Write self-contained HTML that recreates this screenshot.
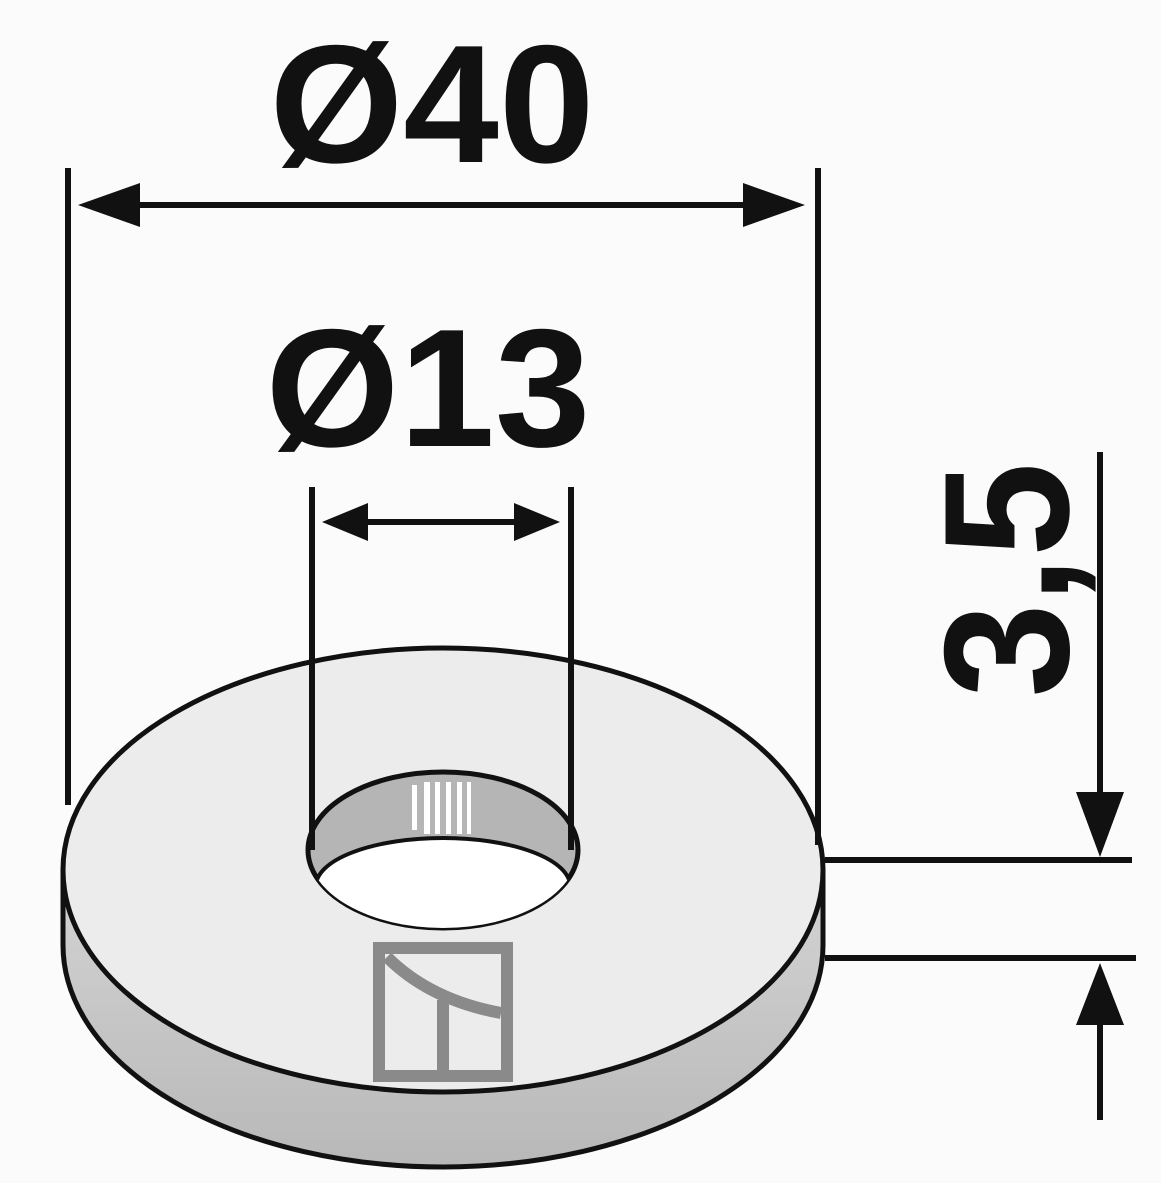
<!DOCTYPE html>
<html><head><meta charset="utf-8"><style>html,body{margin:0;padding:0;background:#fff}svg{display:block}</style></head>
<body>
<svg width="1161" height="1183" viewBox="0 0 1161 1183" xmlns="http://www.w3.org/2000/svg">
<rect width="1161" height="1183" fill="#fbfbfb"/>
<defs>
<clipPath id="holeclip"><ellipse cx="443" cy="850" rx="135" ry="78"/></clipPath>
<linearGradient id="side" x1="0" y1="0" x2="0" y2="1"><stop offset="0" stop-color="#d4d4d4"/><stop offset="1" stop-color="#b8b8b8"/></linearGradient>
</defs>
<!-- washer side -->
<path d="M63,870 L63,945 A380,222 0 0 0 823,945 L823,870 Z" fill="url(#side)" stroke="#111" stroke-width="5"/>
<!-- top face -->
<ellipse cx="443" cy="870" rx="380" ry="222" fill="#ececec" stroke="#111" stroke-width="5"/>
<!-- hole -->
<ellipse cx="443" cy="850" rx="135" ry="78" fill="#b5b5b5" stroke="#111" stroke-width="5"/>
<g clip-path="url(#holeclip)">
<ellipse cx="443" cy="886" rx="127" ry="48" fill="#fff" stroke="#111" stroke-width="4"/>
</g>
<g fill="#fff"><rect x="412" y="785" width="5" height="45"/><rect x="424" y="782" width="6" height="52"/><rect x="435" y="782" width="5" height="52"/><rect x="446" y="782" width="5" height="52"/><rect x="457" y="782" width="5" height="52"/><rect x="467" y="782" width="4" height="52"/></g>
<!-- logo -->
<g fill="none" stroke="#8a8a8a" stroke-width="12">
<rect x="379" y="948" width="128" height="128"/>
<path d="M387,957 Q430,1000 501,1013"/>
<line x1="443" y1="1000" x2="443" y2="1076"/>
</g>
<!-- extension lines -->
<g stroke="#111" stroke-width="6" fill="none">
<line x1="68" y1="168" x2="68" y2="805"/>
<line x1="818" y1="168" x2="818" y2="845"/>
<line x1="312" y1="487" x2="312" y2="850"/>
<line x1="571" y1="487" x2="571" y2="850"/>
<line x1="825" y1="860" x2="1132" y2="860"/>
<line x1="825" y1="958" x2="1136" y2="958"/>
<line x1="120" y1="205" x2="760" y2="205"/>
<line x1="360" y1="522" x2="520" y2="522"/>
<line x1="1100" y1="452" x2="1100" y2="800"/>
<line x1="1100" y1="1020" x2="1100" y2="1120"/>
</g>
<g fill="#111">
<polygon points="78,205 140,183 140,227"/>
<polygon points="805,205 743,183 743,227"/>
<polygon points="322,522 368,503 368,541"/>
<polygon points="560,522 514,503 514,541"/>
<polygon points="1100,857 1076,792 1124,792"/>
<polygon points="1100,963 1076,1025 1124,1025"/>
</g>
<g font-family="Liberation Sans, Arial, sans-serif" font-weight="bold" fill="#111">
<text x="432" y="162" font-size="168" text-anchor="middle" textLength="325" lengthAdjust="spacingAndGlyphs">Ø40</text>
<text x="428" y="446" font-size="168" text-anchor="middle" textLength="325" lengthAdjust="spacingAndGlyphs">Ø13</text>
<text transform="translate(1068,580) rotate(-90)" font-size="178" text-anchor="middle" textLength="235" lengthAdjust="spacingAndGlyphs">3,5</text>
</g>
</svg>
</body></html>
